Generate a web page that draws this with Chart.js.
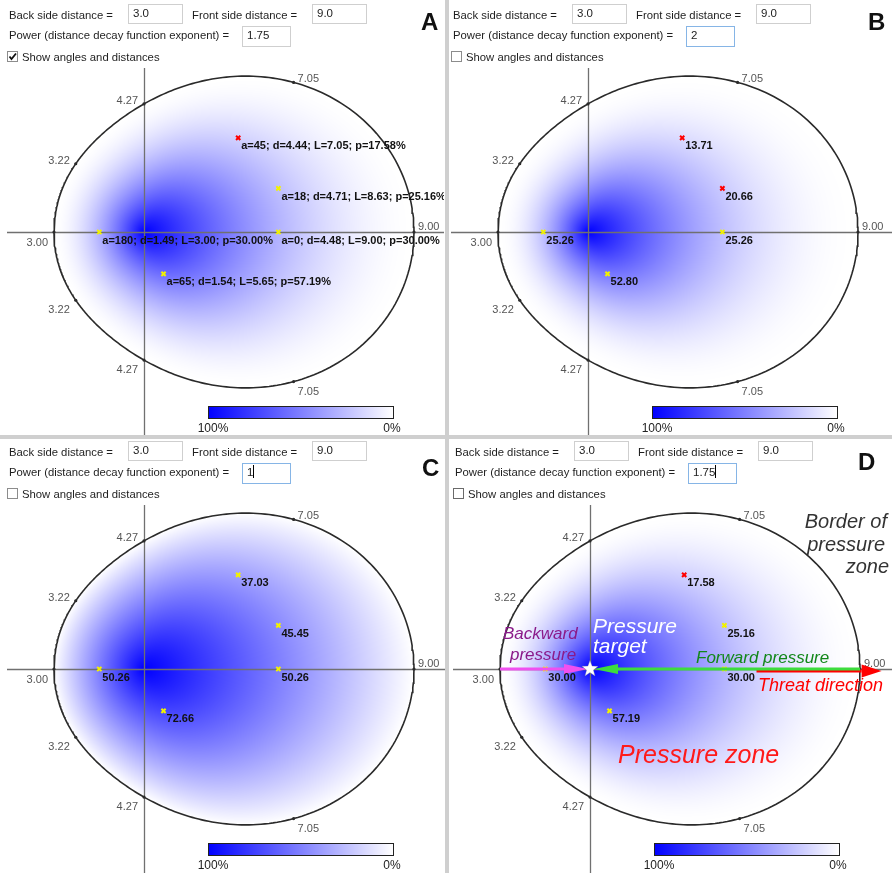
<!DOCTYPE html>
<html><head><meta charset="utf-8">
<script src="https://cdn.jsdelivr.net/npm/chart.js@4.4.0/dist/chart.umd.min.js"></script>
<style>
html,body{margin:0;padding:0;background:#fff;}
body{width:892px;height:873px;overflow:hidden;position:relative;font-family:"Liberation Sans",Arial,sans-serif;}
.panel{position:absolute;overflow:hidden;}
.panel canvas{position:absolute;left:0;top:0;}
.ui{position:absolute;font-size:11.3px;color:#1e1e1e;white-space:nowrap;line-height:14px;}
.inp{position:absolute;border:1px solid #cfcfcf;background:#fff;font-size:11.5px;line-height:17px;padding-left:4px;box-sizing:border-box;color:#222;white-space:nowrap;}
.inp.focus{border-color:#86b5e6;}
.caret{display:inline-block;width:1px;height:13px;background:#000;vertical-align:-2px;}
.cb{position:absolute;width:11px;height:11px;border:1px solid #8c8c8c;box-sizing:border-box;background:#fff;}
.letter{position:absolute;font-weight:bold;font-size:24px;line-height:24px;color:#111;}
.sep{position:absolute;background:#cfcfcf;}
</style></head><body>
<script>
// ---------- data ----------
const panelNames    = ['A', 'B', 'C', 'D'];
const backDistance  = [3.0, 3.0, 3.0, 3.0];
const frontDistance = [9.0, 9.0, 9.0, 9.0];
const powerText     = ['1.75', '2', '1', '1.75'];
const powers        = [1.75, 2, 1, 1.75];
const showAngles    = [true, false, false, false];

// sample locations (angle in degrees from threat direction, distance to target)
const pointAngles      = [45, 18, 0, 180, -65];
const pointDistances   = [4.44, 4.71, 4.48, 1.49, 1.54];
const pointZoneLengths = [7.05, 8.63, 9.00, 3.00, 5.65];
const pressureA = [17.58, 25.16, 30.00, 30.00, 57.19];
const pressureB = [13.71, 20.66, 25.26, 25.26, 52.80];
const pressureC = [37.03, 45.45, 50.26, 50.26, 72.66];
const pressureD = [17.58, 25.16, 30.00, 30.00, 57.19];
const redMarkersA = [true, false, false, false, false];
const redMarkersB = [true, true, false, false, false];
const redMarkersC = [false, false, false, false, false];
const redMarkersD = [true, false, false, false, false];

// zone border ticks
const tickAngles = [0, 45, 90, 135, 180, -45, -90, -135];
const tickLabels = ['9.00', '7.05', '4.27', '3.22', '3.00', '7.05', '4.27', '3.22'];
const colorbarLabels = ['100%', '0%'];

// panel D annotation arrows (in zone units along the threat axis)
const threatArrowFrom = 5.55, threatArrowTo = 9.72, threatArrowY = -0.07;

const pressures = [pressureA, pressureB, pressureC, pressureD];
const redMarkers = [redMarkersA, redMarkersB, redMarkersC, redMarkersD];

// ---------- layout ----------
const panelLeft = [0, 444, 0, 446];
const panelTop  = [0, 0, 437, 437];
const panelW    = [446, 448, 446, 446];
const panelH    = [435, 435, 436, 436];
const ORIGIN_X = 144, ORIGIN_Y = 232, PX_PER_UNIT = 30;

// pressure zone model: L(θ) = B + (F−B)(z³+0.3z)/1.3, z=(1+cosθ)/2
function zoneLength(B, F, theta) {
  const z = (1 + Math.cos(theta)) / 2;
  return B + (F - B) * (z * z * z + 0.3 * z) / 1.3;
}
const rad = a => a * Math.PI / 180;

function el(parent, cls, style, html) {
  const d = document.createElement('div');
  d.className = cls;
  Object.assign(d.style, style);
  if (html !== undefined) d.innerHTML = html;
  parent.appendChild(d);
  return d;
}

function buildUI(panel, i) {
  el(panel, 'ui', {left: '9px', top: '8px'}, 'Back side distance =');
  el(panel, 'inp', {left: '128px', top: '4px', width: '55px', height: '20px'}, backDistance[i].toFixed(1));
  el(panel, 'ui', {left: '192px', top: '8px'}, 'Front side distance =');
  el(panel, 'inp', {left: '312px', top: '4px', width: '55px', height: '20px'}, frontDistance[i].toFixed(1));
  el(panel, 'ui', {left: '9px', top: '28px'}, 'Power (distance decay function exponent) =');
  const caret = (i >= 2) ? '<span class="caret"></span>' : '';
  el(panel, 'inp' + (i >= 1 ? ' focus' : ''), {left: '242px', top: '26px', width: '49px', height: '21px'}, powerText[i] + caret);
  const cb = el(panel, 'cb', {left: '7px', top: '51px', borderColor: i === 3 ? '#6a6a6a' : '#8c8c8c'});
  if (showAngles[i]) cb.innerHTML = '<svg width="9" height="9" style="position:absolute;left:0;top:0"><polyline points="1.5,4.5 3.5,7 8,1.5" fill="none" stroke="#111" stroke-width="1.8"/></svg>';
  el(panel, 'ui', {left: '22px', top: '50px'}, 'Show angles and distances');
}

function makePanel(i) {
  const W = panelW[i], H = panelH[i];
  const B = backDistance[i], F = frontDistance[i], q = powers[i];
  const panel = el(document.body, 'panel', {left: panelLeft[i] + 'px', top: panelTop[i] + 'px', width: W + 'px', height: H + 'px'});
  const canvas = document.createElement('canvas');
  canvas.width = W; canvas.height = H;
  canvas.style.width = W + 'px'; canvas.style.height = H + 'px';
  panel.appendChild(canvas);
  buildUI(panel, i);

  // border of the zone from the model
  const border = [];
  for (let a = 0; a <= 360; a += 1) {
    const L = zoneLength(B, F, rad(a));
    border.push({x: L * Math.cos(rad(a)), y: L * Math.sin(rad(a))});
  }
  const ticks = tickAngles.map(a => {
    const L = zoneLength(B, F, rad(a));
    return {x: L * Math.cos(rad(a)), y: L * Math.sin(rad(a))};
  });
  const pts = pointAngles.map((a, k) => ({x: pointDistances[k] * Math.cos(rad(a)), y: pointDistances[k] * Math.sin(rad(a))}));
  const markerColors = redMarkers[i].map(r => r ? '#ff0000' : '#f2f200');

  const zonePlugin = {
    id: 'zone' + i,
    beforeDatasetsDraw(chart) {
      const {ctx, chartArea: ar, scales: {x, y}} = chart;
      const w = Math.round(ar.right - ar.left), h = Math.round(ar.bottom - ar.top);
      const img = ctx.createImageData(w, h);
      for (let j = 0; j < h; j++) {
        const vy = y.getValueForPixel(ar.top + j + 0.5);
        for (let ii = 0; ii < w; ii++) {
          const vx = x.getValueForPixel(ar.left + ii + 0.5);
          const d = Math.hypot(vx, vy);
          const L = zoneLength(B, F, Math.atan2(vy, vx));
          const k = (j * w + ii) * 4;
          let c = 255;
          if (d < L) c = Math.round(255 * (1 - Math.pow(1 - d / L, q)));
          img.data[k] = c; img.data[k + 1] = c; img.data[k + 2] = 255; img.data[k + 3] = 255;
        }
      }
      ctx.putImageData(img, ar.left, ar.top);
      // axes through the target
      ctx.save();
      ctx.strokeStyle = '#707070';
      ctx.lineWidth = 1.3;
      const y0 = Math.round(y.getPixelForValue(0)) + 0.5, x0 = Math.round(x.getPixelForValue(0)) + 0.5;
      ctx.beginPath();
      ctx.moveTo(ar.left + 7, y0); ctx.lineTo(ar.right, y0);
      ctx.moveTo(x0, ar.top + 68); ctx.lineTo(x0, ar.bottom);
      ctx.stroke();
      ctx.restore();
    },
    afterDatasetsDraw(chart) {
      const {ctx, chartArea: ar, scales: {x, y}} = chart;
      ctx.save();
      // tick labels on the zone border
      ctx.font = '11px "Liberation Sans", Arial, sans-serif';
      ctx.fillStyle = '#555';
      ctx.textBaseline = 'alphabetic';
      tickAngles.forEach((a, k) => {
        const bx = x.getPixelForValue(ticks[k].x), by = y.getPixelForValue(ticks[k].y);
        const right = Math.abs(a) <= 45;
        ctx.textAlign = right ? 'left' : 'right';
        let dy;
        if (a === 0) dy = -2;
        else if (a === 180) dy = 14;
        else if (a > 0) dy = 0;
        else dy = 13;
        ctx.fillText(tickLabels[k], right ? bx + 4 : bx - 6, by + dy);
      });
      // arrows (panel D)
      if (i === 3) drawArrows(ctx, x, y, B, F);
      // point labels
      ctx.font = 'bold 11px "Liberation Sans", Arial, sans-serif';
      ctx.fillStyle = '#111';
      ctx.textAlign = 'left';
      ctx.textBaseline = 'middle';
      pts.forEach((p, k) => {
        const px = x.getPixelForValue(p.x), py = y.getPixelForValue(p.y);
        const val = pressures[i][k].toFixed(2);
        const txt = showAngles[i]
          ? 'a=' + Math.abs(pointAngles[k]) + '; d=' + pointDistances[k].toFixed(2) + '; L=' + pointZoneLengths[k].toFixed(2) + '; p=' + val + '%'
          : val;
        ctx.fillText(txt, px + 3, py + 8.5);
      });
      // colour bar
      const cx0 = ar.left + 208, cy0 = ar.top + 406, cw = 185, ch = 12;
      const g = ctx.createLinearGradient(cx0, 0, cx0 + cw, 0);
      g.addColorStop(0, 'rgb(0,0,255)');
      g.addColorStop(1, 'rgb(255,255,255)');
      ctx.fillStyle = g;
      ctx.fillRect(cx0, cy0, cw, ch);
      ctx.strokeStyle = '#222';
      ctx.lineWidth = 1;
      ctx.strokeRect(cx0 + 0.5, cy0 + 0.5, cw, ch);
      ctx.font = '12px "Liberation Sans", Arial, sans-serif';
      ctx.fillStyle = '#222';
      ctx.textAlign = 'center';
      ctx.textBaseline = 'alphabetic';
      ctx.fillText(colorbarLabels[0], cx0 + 5, cy0 + 26);
      ctx.fillText(colorbarLabels[1], cx0 + cw - 1, cy0 + 26);
      if (i === 3) drawAnnotations(ctx, ar);
      ctx.restore();
    }
  };

  new Chart(canvas, {
    type: 'scatter',
    data: {datasets: [
      {data: pts, pointStyle: 'crossRot', pointRadius: 3, borderWidth: 2, borderColor: markerColors, backgroundColor: markerColors, order: 0},
      {data: ticks, pointRadius: 1.6, pointStyle: 'circle', backgroundColor: '#2a2a2a', borderWidth: 0, order: 1},
      {type: 'line', data: border, borderColor: '#2a2a2a', borderWidth: 1.6, pointRadius: 0, fill: false, tension: 0, order: 2}
    ]},
    options: {
      responsive: false, animation: false, events: [],
      layout: {padding: 0, autoPadding: false},
      scales: {
        x: {type: 'linear', display: false, min: -ORIGIN_X / PX_PER_UNIT, max: (W - ORIGIN_X) / PX_PER_UNIT},
        y: {type: 'linear', display: false, min: -(H - ORIGIN_Y) / PX_PER_UNIT, max: ORIGIN_Y / PX_PER_UNIT}
      },
      plugins: {legend: {display: false}, tooltip: {enabled: false}}
    },
    plugins: [zonePlugin]
  });
}

function arrowLine(ctx, x1, y1, x2, y2, color, lw, headLen, headHalf) {
  const ang = Math.atan2(y2 - y1, x2 - x1);
  const bx = x2 - headLen * Math.cos(ang), by = y2 - headLen * Math.sin(ang);
  ctx.strokeStyle = color; ctx.fillStyle = color; ctx.lineWidth = lw;
  ctx.beginPath(); ctx.moveTo(x1, y1); ctx.lineTo(bx, by); ctx.stroke();
  ctx.beginPath();
  ctx.moveTo(x2, y2);
  ctx.lineTo(bx + headHalf * Math.sin(ang), by - headHalf * Math.cos(ang));
  ctx.lineTo(bx - headHalf * Math.sin(ang), by + headHalf * Math.cos(ang));
  ctx.closePath(); ctx.fill();
}

function drawArrows(ctx, x, y, B, F) {
  const y0 = y.getPixelForValue(0), x0 = x.getPixelForValue(0);
  // threat direction
  arrowLine(ctx, x.getPixelForValue(threatArrowFrom), y.getPixelForValue(threatArrowY),
            x.getPixelForValue(threatArrowTo), y.getPixelForValue(threatArrowY), '#ff0000', 3, 20, 6.5);
  // forward pressure
  arrowLine(ctx, x.getPixelForValue(F), y0, x0 + 4, y0, '#3ddc3d', 3, 24, 5);
  // backward pressure
  arrowLine(ctx, x.getPixelForValue(-B), y0, x0 - 2, y0, '#f050f0', 3, 24, 5);
  // target star
  ctx.save();
  ctx.beginPath();
  for (let k = 0; k < 10; k++) {
    const r = k % 2 === 0 ? 8.5 : 3.6;
    const a = -Math.PI / 2 + k * Math.PI / 5;
    const px = x0 + r * Math.cos(a), py = y0 + r * Math.sin(a);
    if (k === 0) ctx.moveTo(px, py); else ctx.lineTo(px, py);
  }
  ctx.closePath();
  ctx.fillStyle = '#ffffff';
  ctx.fill();
  ctx.strokeStyle = 'rgba(120,120,160,0.6)';
  ctx.lineWidth = 0.6;
  ctx.stroke();
  ctx.restore();
}

function drawAnnotations(ctx, ar) {
  const L = ar.left, T = ar.top;
  ctx.textBaseline = 'alphabetic';
  ctx.font = 'italic 20px "Liberation Sans", Arial, sans-serif';
  ctx.fillStyle = '#333';
  ctx.textAlign = 'right';
  ctx.fillText('Border of', L + 441, T + 91);
  ctx.fillText('pressure', L + 439, T + 114);
  ctx.fillText('zone', L + 443, T + 136);
  ctx.textAlign = 'left';
  ctx.font = 'italic 21px "Liberation Sans", Arial, sans-serif';
  ctx.fillStyle = '#ffffff';
  ctx.fillText('Pressure', L + 147, T + 196);
  ctx.fillText('target', L + 147, T + 216);
  ctx.font = 'italic 17px "Liberation Sans", Arial, sans-serif';
  ctx.fillStyle = '#8a1a8a';
  ctx.fillText('Backward', L + 57, T + 202);
  ctx.fillText('pressure', L + 64, T + 223);
  ctx.fillStyle = '#12871a';
  ctx.fillText('Forward pressure', L + 250, T + 226);
  ctx.font = 'italic 18px "Liberation Sans", Arial, sans-serif';
  ctx.fillStyle = '#ff0000';
  ctx.fillText('Threat direction', L + 312, T + 254);
  ctx.font = 'italic 25px "Liberation Sans", Arial, sans-serif';
  ctx.fillStyle = '#ff1a1a';
  ctx.fillText('Pressure zone', L + 172, T + 326);
}

for (let i = 0; i < 4; i++) makePanel(i);

// separators
el(document.body, 'sep', {left: '445px', top: '0px', width: '4px', height: '873px'});
el(document.body, 'sep', {left: '0px', top: '435px', width: '892px', height: '4px'});
// panel letters
el(document.body, 'letter', {left: '421px', top: '10px'}, panelNames[0]);
el(document.body, 'letter', {left: '868px', top: '10px'}, panelNames[1]);
el(document.body, 'letter', {left: '422px', top: '456px'}, panelNames[2]);
el(document.body, 'letter', {left: '858px', top: '450px'}, panelNames[3]);
</script>
</body></html>
